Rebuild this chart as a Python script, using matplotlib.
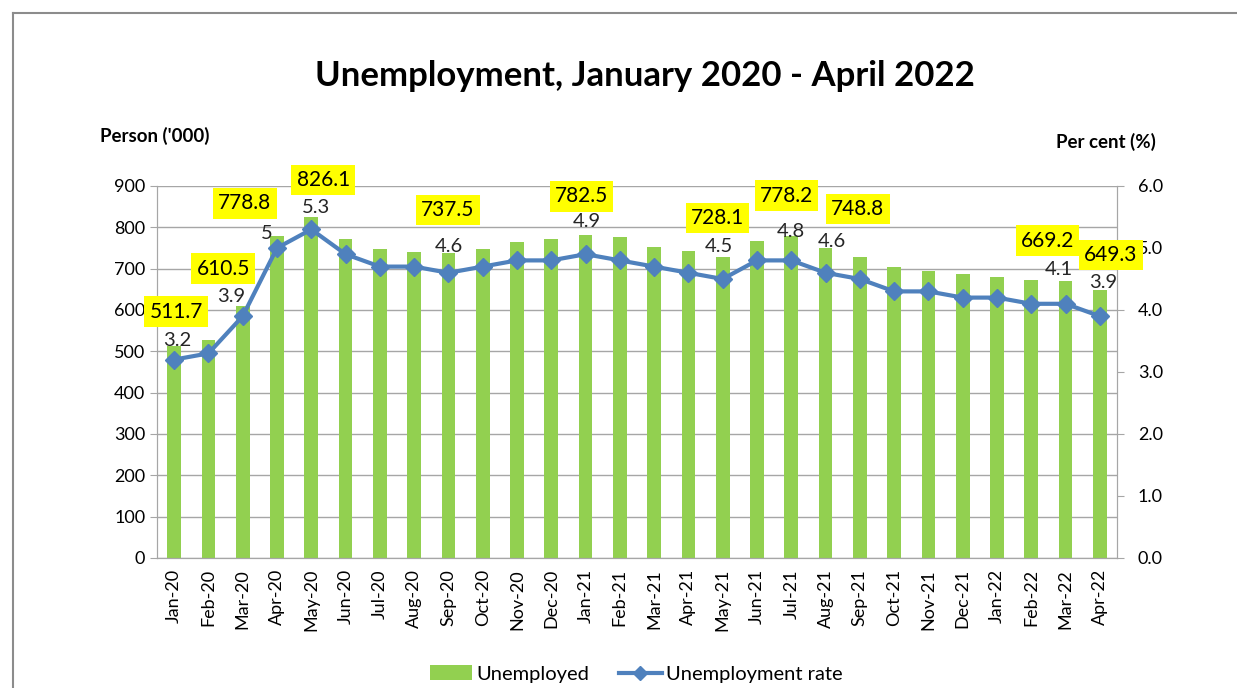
import matplotlib.pyplot as plt
from matplotlib.lines import Line2D
from matplotlib.patches import Patch

months = ["Jan-20", "Feb-20", "Mar-20", "Apr-20", "May-20", "Jun-20", "Jul-20",
          "Aug-20", "Sep-20", "Oct-20", "Nov-20", "Dec-20", "Jan-21", "Feb-21",
          "Mar-21", "Apr-21", "May-21", "Jun-21", "Jul-21", "Aug-21", "Sep-21",
          "Oct-21", "Nov-21", "Dec-21", "Jan-22", "Feb-22", "Mar-22", "Apr-22"]
unemployed = [511.7, 527.0, 610.5, 778.8, 826.1, 772.0, 746.5, 741.5, 737.5, 748.0,
              765.5, 772.0, 782.5, 777.5, 753.0, 743.0, 728.1, 768.0, 778.2, 748.8,
              729.0, 705.0, 694.0, 688.0, 681.0, 673.0, 669.2, 649.3]
rate = [3.2, 3.3, 3.9, 5.0, 5.3, 4.9, 4.7, 4.7, 4.6, 4.7, 4.8, 4.8, 4.9, 4.8,
        4.7, 4.6, 4.5, 4.8, 4.8, 4.6, 4.5, 4.3, 4.3, 4.2, 4.2, 4.1, 4.1, 3.9]

# labelled points -> where the label sits (x in category units, y in axis units)
bar_label_pos = {0: (0.06, 596), 2: (1.43, 700), 3: (2.06, 858), 4: (4.35, 915),
                 8: (7.98, 842), 12: (11.88, 875), 16: (15.85, 822), 18: (17.86, 877),
                 19: (19.94, 844), 26: (25.47, 768), 27: (27.32, 733)}
rate_label_pos = {0: (0.09, 3.50), 2: (1.66, 4.21), 3: (2.71, 5.24), 4: (4.15, 5.65),
                  8: (8.0, 5.03), 12: (12.03, 5.42), 16: (15.9, 5.02), 18: (17.98, 5.26),
                  19: (19.17, 5.11), 26: (25.8, 4.66), 27: (27.09, 4.44)}

GREEN = "#92D050"
BLUE = "#4F81BD"
GRID = "#A6A6A6"
FONT = "Lato"

fig = plt.figure(figsize=(12.37, 6.88), dpi=100)
# outer frame (only top and left visible in the crop)
fig.lines.append(Line2D([13 / 1237, 1], [1 - 13 / 688, 1 - 13 / 688],
                        transform=fig.transFigure, color="#8C8C8C", linewidth=1.5))
fig.lines.append(Line2D([13 / 1237, 13 / 1237], [0, 1 - 13 / 688],
                        transform=fig.transFigure, color="#8C8C8C", linewidth=1.5))

ax = fig.add_axes([157 / 1237, 1 - 558 / 688, (1117 - 157) / 1237, (558 - 186) / 688])
x = list(range(len(months)))
ax.bar(x, unemployed, width=0.40, color=GREEN, zorder=2)
ax.set_xlim(-0.5, len(months) - 0.5)
ax.set_ylim(0, 900)
ax.set_yticks(range(0, 901, 100))
ax.yaxis.grid(True, color=GRID, linewidth=1, zorder=0)
ax.set_xticks(x)
ax.set_xticklabels(months, rotation=90, fontsize=13, family=FONT)
ax.tick_params(axis="y", labelsize=13, length=5, color=GRID)
ax.tick_params(axis="x", length=0, pad=8)
for lab in ax.get_yticklabels():
    lab.set_family(FONT)
ax.spines["top"].set_visible(False)
for s in ["left", "bottom", "right"]:
    ax.spines[s].set_color(GRID)

ax2 = ax.twinx()
ax2.plot(x, rate, color=BLUE, linewidth=3, marker="D", markersize=9, zorder=3)
ax2.set_ylim(0, 6)
ax2.set_yticks([0, 1, 2, 3, 4, 5, 6])
ax2.set_yticklabels([f"{v:.1f}" for v in range(7)], fontsize=13, family=FONT)
ax2.tick_params(axis="y", length=5, color=GRID, pad=10)
ax2.spines["top"].set_visible(False)
for s in ["left", "bottom", "right"]:
    ax2.spines[s].set_color(GRID)

for i, (lx, ly) in bar_label_pos.items():
    ax2.text(lx, ly / 150, f"{unemployed[i]:.1f}", ha="center", va="center",
             fontsize=15, family=FONT, zorder=6, clip_on=False,
             bbox=dict(boxstyle="square,pad=0.25", facecolor="#FFFF00", edgecolor="none"))
for i, (lx, ly) in rate_label_pos.items():
    ax2.text(lx, ly, f"{rate[i]:g}", ha="center", va="center", fontsize=14.5,
             family=FONT, color="#262626", zorder=5)

fig.text(645 / 1237, 1 - 76 / 688, "Unemployment, January 2020 - April 2022",
         ha="center", va="center", fontsize=25, fontweight="bold", family=FONT)
fig.text(155 / 1237, 1 - 136 / 688, "Person ('000)", ha="center", va="center",
         fontsize=13.5, fontweight="bold", family=FONT)
fig.text(1106 / 1237, 1 - 142 / 688, "Per cent (%)", ha="center", va="center",
         fontsize=13.5, fontweight="bold", family=FONT)

handles = [Patch(facecolor=GREEN, label="Unemployed"),
           Line2D([0], [0], color=BLUE, linewidth=3, marker="D", markersize=7,
                  label="Unemployment rate")]
fig.legend(handles=handles, loc="center", bbox_to_anchor=(636 / 1237, 1 - 674 / 688),
           ncol=2, frameon=False, prop={"family": FONT, "size": 14.5},
           handlelength=2.1, columnspacing=1.5, handletextpad=0.2)

fig.savefig("out.png", dpi=100)
